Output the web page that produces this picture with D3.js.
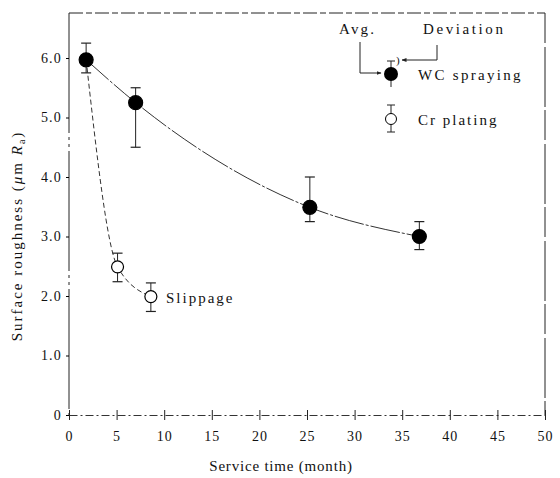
<!DOCTYPE html>
<html>
<head>
<meta charset="utf-8">
<script src="https://cdn.jsdelivr.net/npm/d3@7"></script>
<style>
  body { margin: 0; background: #fff; }
  text { font-family: "Liberation Serif", "DejaVu Serif", serif; fill: #111; }
</style>
</head>
<body>
<div id="chart"></div>
<script>
// Data
let wcMonths = [1.8, 7, 25.3, 36.8],
    wcAvg = [5.97, 5.25, 3.49, 3.0],
    wcHigh = [6.25, 5.5, 4.0, 3.25],
    wcLow = [5.75, 4.5, 3.25, 2.78];

let crMonths = [5.1, 8.6],
    crAvg = [2.49, 1.99],
    crHigh = [2.72, 2.22],
    crLow = [2.24, 1.74];

let xTicks = [0, 5, 10, 15, 20, 25, 30, 35, 40, 45, 50],
    yTicks = [0, 1, 2, 3, 4, 5, 6];

// Set dimensions
let width = 560,
    height = 478;

let x = d3.scaleLinear().domain([0, 50]).range([69, 545]);
let y = d3.scaleLinear().domain([0, 6]).range([415, 58]);
let plotTop = 13;

let svg = d3.select("#chart")
    .append("svg")
        .attr("width", width)
        .attr("height", height);

// Frame
svg.append("line")
    .attr("x1", x(0)).attr("x2", x(50))
    .attr("y1", plotTop).attr("y2", plotTop)
    .attr("stroke", "#222").attr("stroke-width", 1)
    .attr("stroke-dasharray", "14,3,6,3");
svg.append("line")
    .attr("x1", x(50)).attr("x2", x(50))
    .attr("y1", plotTop).attr("y2", y(0))
    .attr("stroke", "#222").attr("stroke-width", 1)
    .attr("stroke-dasharray", "30,4,60,3");
svg.append("line")
    .attr("x1", x(0)).attr("x2", x(0))
    .attr("y1", plotTop).attr("y2", y(0))
    .attr("stroke", "#222").attr("stroke-width", 1)
    .attr("stroke-dasharray", "120,4,3,4,3,4");

// Axes
let xAxis = d3.axisBottom(x).tickValues(xTicks).tickSize(5).tickSizeOuter(0);
let gx = svg.append("g")
    .attr("transform", `translate(0,${y(0)})`)
    .call(xAxis);
gx.select(".domain").attr("stroke-dasharray", "8,3,2,3").attr("stroke", "#333");
gx.selectAll(".tick line").attr("y1", -5).attr("stroke", "#222");
gx.selectAll(".tick text")
    .attr("dy", "1.25em")
    .style("font-size", "14px")
    .style("letter-spacing", "1px")
    .style("font-family", "Liberation Serif");

let yAxis = d3.axisLeft(y).tickValues(yTicks).tickSize(3).tickSizeOuter(0)
    .tickFormat(d => d === 0 ? "0" : d3.format(".1f")(d));
let gy = svg.append("g")
    .attr("transform", `translate(${x(0)},0)`)
    .call(yAxis);
gy.select(".domain").remove();
gy.selectAll(".tick text")
    .attr("x", -7)
    .style("font-size", "14px")
    .style("letter-spacing", "1.2px")
    .style("font-family", "Liberation Serif");

// Axis titles
svg.append("text")
    .attr("x", 281).attr("y", 471)
    .attr("text-anchor", "middle")
    .style("font-size", "15px")
    .style("letter-spacing", "0.8px")
    .text("Service time (month)");

let yTitle = svg.append("text")
    .attr("transform", "translate(22,236) rotate(-90)")
    .attr("text-anchor", "middle")
    .style("font-size", "15px")
    .style("letter-spacing", "2px");
yTitle.append("tspan").text("Surface roughness (");
yTitle.append("tspan").attr("font-style", "italic").text("μ");
yTitle.append("tspan").text("m ");
yTitle.append("tspan").attr("font-style", "italic").text("R");
yTitle.append("tspan").attr("font-size", "10px").attr("dy", 3).text("a");
yTitle.append("tspan").attr("dy", -3).text(")");

// Curves
let wcPts = wcMonths.map((m, i) => [m, wcAvg[i]]);
let crPts = [[wcMonths[0], wcAvg[0]]].concat(crMonths.map((m, i) => [m, crAvg[i]]));

let line = d3.line()
    .x(d => x(d[0]))
    .y(d => y(d[1]))
    .curve(d3.curveMonotoneX);

svg.append("path")
    .attr("d", line(wcPts))
    .attr("fill", "none")
    .attr("stroke", "#333")
    .attr("stroke-width", 1)
    .attr("stroke-dasharray", "30,2,3,2");

svg.append("path")
    .attr("d", line(crPts))
    .attr("fill", "none")
    .attr("stroke", "#333")
    .attr("stroke-width", 1)
    .attr("stroke-dasharray", "5,3");

// Error bars and markers
let drawPoint = (g, px, py, hi, lo, filled) => {
    let cx = x(px);
    g.append("line")
        .attr("x1", cx).attr("x2", cx)
        .attr("y1", y(hi)).attr("y2", y(lo))
        .attr("stroke", "#222").attr("stroke-width", 1);
    [hi, lo].forEach(v => {
        g.append("line")
            .attr("x1", cx - 5).attr("x2", cx + 5)
            .attr("y1", y(v)).attr("y2", y(v))
            .attr("stroke", "#222").attr("stroke-width", 1.2);
    });
    g.append("circle")
        .attr("cx", cx).attr("cy", y(py))
        .attr("r", filled ? 7 : 6)
        .attr("fill", filled ? "#000" : "#fff")
        .attr("stroke", "#000")
        .attr("stroke-width", 1.2);
};

let marks = svg.append("g");
crMonths.forEach((m, i) => drawPoint(marks, m, crAvg[i], crHigh[i], crLow[i], false));
wcMonths.forEach((m, i) => drawPoint(marks, m, wcAvg[i], wcHigh[i], wcLow[i], true));

svg.append("text")
    .attr("x", 166).attr("y", 303)
    .style("font-size", "15px")
    .style("letter-spacing", "2px")
    .text("Slippage");

// Legend
let leg = svg.append("g");
let lx = 391;
leg.append("line").attr("x1", lx).attr("x2", lx).attr("y1", 61).attr("y2", 87).attr("stroke", "#222");
leg.append("line").attr("x1", lx - 4).attr("x2", lx + 4).attr("y1", 61).attr("y2", 61).attr("stroke", "#222");
leg.append("circle").attr("cx", lx).attr("cy", 74).attr("r", 7).attr("fill", "#000");
leg.append("text").attr("x", 418).attr("y", 80)
    .style("font-size", "15px").style("letter-spacing", "2.3px").text("WC spraying");

leg.append("line").attr("x1", lx).attr("x2", lx).attr("y1", 105).attr("y2", 132).attr("stroke", "#222");
leg.append("line").attr("x1", lx - 4).attr("x2", lx + 4).attr("y1", 105).attr("y2", 105).attr("stroke", "#222");
leg.append("line").attr("x1", lx - 4).attr("x2", lx + 4).attr("y1", 132).attr("y2", 132).attr("stroke", "#222");
leg.append("circle").attr("cx", lx).attr("cy", 119).attr("r", 5.5).attr("fill", "#fff").attr("stroke", "#000");
leg.append("text").attr("x", 418).attr("y", 125)
    .style("font-size", "15px").style("letter-spacing", "2px").text("Cr plating");

leg.append("text").attr("x", 339).attr("y", 34)
    .style("font-size", "15px").style("letter-spacing", "2.2px").text("Avg.");
leg.append("text").attr("x", 423).attr("y", 34)
    .style("font-size", "15px").style("letter-spacing", "2.6px").text("Deviation");

// Arrows
svg.append("defs").append("marker")
    .attr("id", "arrow")
    .attr("viewBox", "0 0 10 10")
    .attr("refX", 9).attr("refY", 5)
    .attr("markerWidth", 5).attr("markerHeight", 5)
    .attr("orient", "auto")
    .append("path").attr("d", "M0,1L10,5L0,9Z").attr("fill", "#222");

leg.append("path")
    .attr("d", "M360,42V73H381")
    .attr("fill", "none").attr("stroke", "#222")
    .attr("marker-end", "url(#arrow)");
leg.append("path")
    .attr("d", "M437,45V60H402")
    .attr("fill", "none").attr("stroke", "#222")
    .attr("marker-end", "url(#arrow)");
leg.append("text").attr("x", 396).attr("y", 64).style("font-size", "11px").text(")");
</script>
</body>
</html>
